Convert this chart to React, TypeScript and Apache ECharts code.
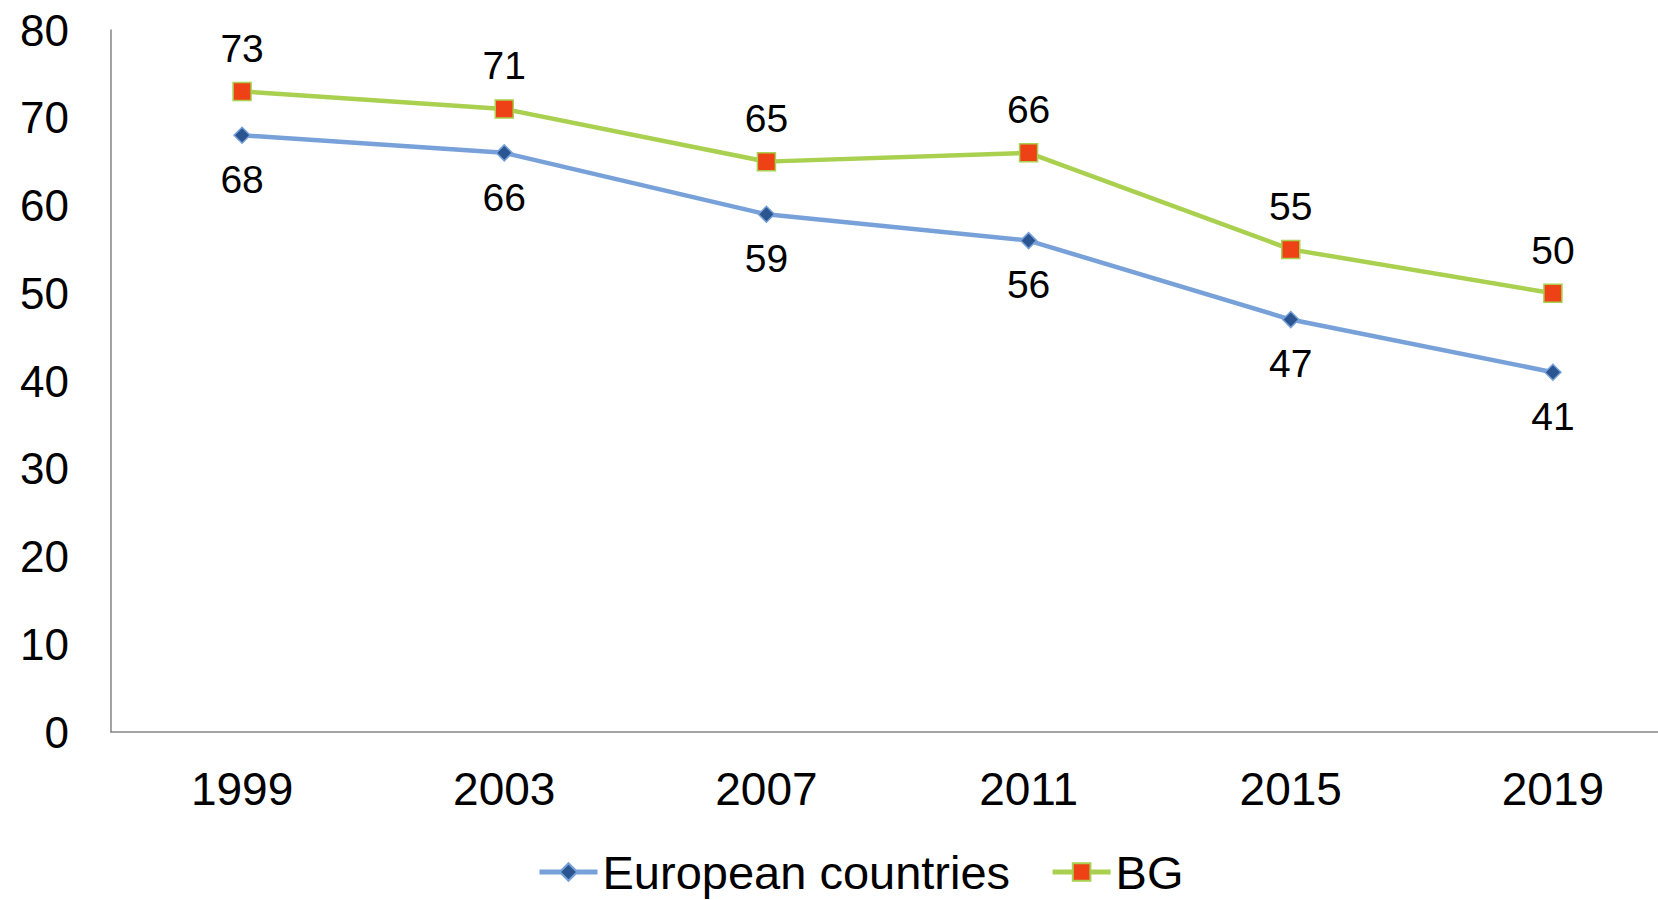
import React, { useEffect, useRef } from "react";
import * as echarts from "echarts";

const years = ["1999", "2003", "2007", "2011", "2015", "2019"];
const europeanCountries = [68, 66, 59, 56, 47, 41];
const bg = [73, 71, 65, 66, 55, 50];

export default function App() {
  const ref = useRef<HTMLDivElement>(null);
  useEffect(() => {
    document.body.style.margin = "0";
    const chart = echarts.init(ref.current!, null, { renderer: "svg" });
    const font = "'Liberation Sans', Arial, sans-serif";
    chart.setOption({
      animation: false,
      backgroundColor: "#ffffff",
      textStyle: { fontFamily: font },
      grid: {
        left: 111,
        width: 1573,
        top: 30,
        height: 702,
        containLabel: false,
        outerBoundsMode: "none",
      },
      legend: {
        left: 532,
        top: 843,
        itemWidth: 58,
        itemHeight: 22,
        itemGap: 40,
        lineStyle: { width: 5 },
        textStyle: { fontSize: 47, lineHeight: 48, color: "#000", fontFamily: font },
        data: ["European countries", "BG"],
      },
      xAxis: {
        type: "category",
        data: years,
        boundaryGap: true,
        axisLine: { lineStyle: { color: "#868686", width: 1.5 } },
        axisTick: { show: false },
        axisLabel: { fontSize: 46, color: "#000", margin: 34, fontFamily: font },
      },
      yAxis: {
        type: "value",
        min: 0,
        max: 80,
        interval: 10,
        splitLine: { show: false },
        axisLine: { show: true, lineStyle: { color: "#868686", width: 1.5 } },
        axisTick: { show: false },
        axisLabel: { fontSize: 44, color: "#000", margin: 42, fontFamily: font },
      },
      series: [
        {
          name: "European countries",
          type: "line",
          data: europeanCountries,
          symbol: "diamond",
          symbolSize: 16,
          lineStyle: { color: "#77A1D8", width: 4.5 },
          itemStyle: { color: "#2A5590", borderColor: "#77A1D8", borderWidth: 1.5 },
          label: {
            show: true,
            position: "bottom",
            distance: 16,
            fontSize: 39,
            color: "#000",
            fontFamily: font,
          },
          z: 2,
        },
        {
          name: "BG",
          type: "line",
          data: bg,
          symbol: "rect",
          symbolSize: 18,
          lineStyle: { color: "#A9D04F", width: 4.5 },
          itemStyle: { color: "#EE4116", borderColor: "#A9D04F", borderWidth: 1.5 },
          label: {
            show: true,
            position: "top",
            distance: 14,
            fontSize: 39,
            color: "#000",
            fontFamily: font,
          },
          z: 3,
        },
      ],
    });
    return () => chart.dispose();
  }, []);
  return <div ref={ref} style={{ width: 1658, height: 900 }} />;
}
